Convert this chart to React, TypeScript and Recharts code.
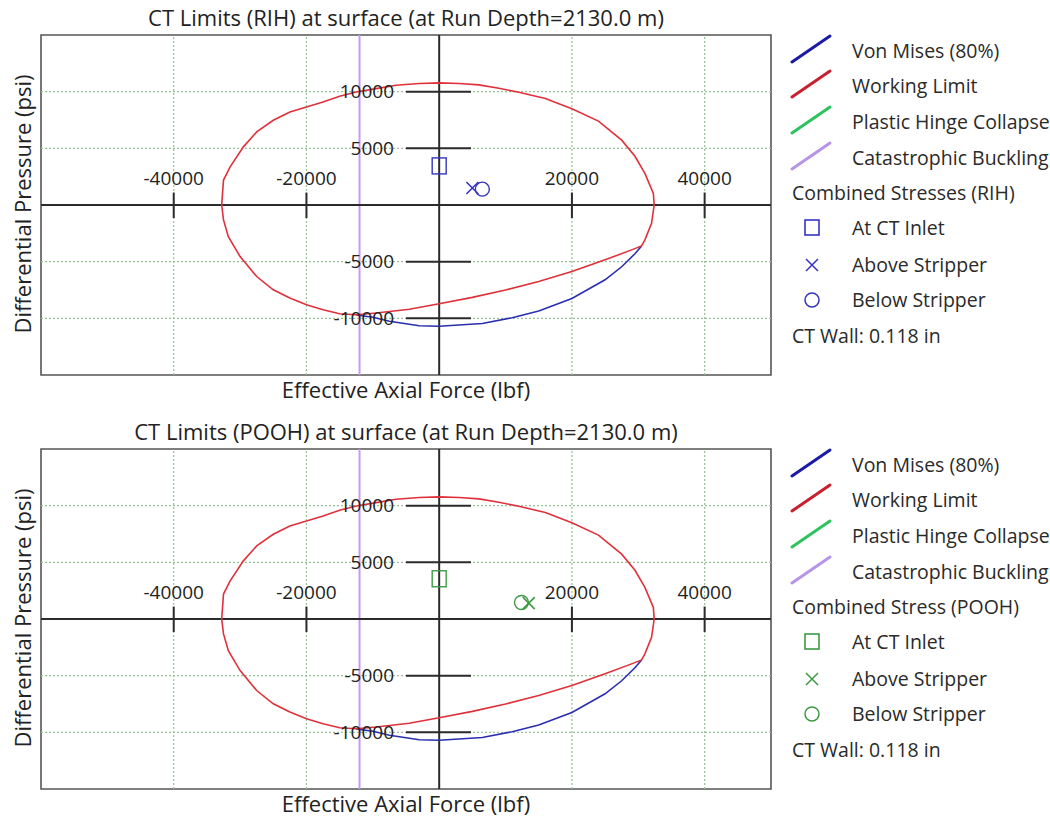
import React from "react";
import {
  ComposedChart,
  Line,
  ReferenceArea,
  ReferenceDot,
  ReferenceLine,
  Scatter,
  XAxis,
  YAxis,
} from "recharts";

const FONT = "'Open Sans', 'Noto Sans', sans-serif";

const X_DOMAIN = [-60000, 50000];
const Y_DOMAIN = [-15000, 15000];
const X_TICKS = [-40000, -20000, 20000, 40000];
const Y_TICKS = [-10000, -5000, 5000, 10000];

// Working limit envelope (lbf, psi), clockwise from the top
const workingLimit = [
  { x: 0, y: 10780 },
  { x: 3000, y: 10720 },
  { x: 6000, y: 10600 },
  { x: 9000, y: 10300 },
  { x: 12000, y: 9950 },
  { x: 16000, y: 9390 },
  { x: 20000, y: 8500 },
  { x: 24000, y: 7400 },
  { x: 27500, y: 5720 },
  { x: 29500, y: 4300 },
  { x: 31000, y: 2790 },
  { x: 32270, y: 1030 },
  { x: 32400, y: 0 },
  { x: 32000, y: -1610 },
  { x: 31000, y: -3080 },
  { x: 30500, y: -3610 },
  { x: 29000, y: -3960 },
  { x: 25000, y: -4840 },
  { x: 20000, y: -5870 },
  { x: 15000, y: -6750 },
  { x: 10000, y: -7500 },
  { x: 5000, y: -8150 },
  { x: 0, y: -8710 },
  { x: -4500, y: -9200 },
  { x: -9500, y: -9530 },
  { x: -12500, y: -9680 },
  { x: -15000, y: -9600 },
  { x: -17500, y: -9240 },
  { x: -20000, y: -8800 },
  { x: -22500, y: -8210 },
  { x: -25000, y: -7480 },
  { x: -27500, y: -6310 },
  { x: -30000, y: -4550 },
  { x: -31770, y: -2790 },
  { x: -32500, y: -1320 },
  { x: -32770, y: 0 },
  { x: -32500, y: 2200 },
  { x: -31500, y: 3370 },
  { x: -29500, y: 5130 },
  { x: -27500, y: 6450 },
  { x: -25000, y: 7480 },
  { x: -22500, y: 8210 },
  { x: -20000, y: 8650 },
  { x: -17500, y: 9090 },
  { x: -15000, y: 9600 },
  { x: -12500, y: 9970 },
  { x: -9500, y: 10270 },
  { x: -6500, y: 10560 },
  { x: -3000, y: 10720 },
  { x: 0, y: 10780 },
];

// Von Mises (80%) - visible lower arc, the rest lies under the working limit
const vonMises = [
  { x: -12500, y: -9700 },
  { x: -10000, y: -9900 },
  { x: -7500, y: -10250 },
  { x: -3000, y: -10650 },
  { x: 0, y: -10700 },
  { x: 6500, y: -10450 },
  { x: 11000, y: -9950 },
  { x: 15000, y: -9350 },
  { x: 20000, y: -8250 },
  { x: 25000, y: -6600 },
  { x: 27500, y: -5450 },
  { x: 29500, y: -4300 },
  { x: 30500, y: -3610 },
];

const BUCKLING_FORCE = -12000;

const rihInlet = [{ x: 0, y: 3450 }];
const rihAbove = [{ x: 5000, y: 1500 }];
const rihBelow = [{ x: 6500, y: 1400 }];

const poohInlet = [{ x: 0, y: 3550 }];
const poohAbove = [{ x: 13500, y: 1400 }];
const poohBelow = [{ x: 12400, y: 1450 }];

const RED = "#e0313a";
const BLUE = "#2a2fb0";
const PURPLE = "#c79af0";
const GRID = "#96c296";
const AXIS = "#2b2b2b";

const squareShape = (color: string) => (p: any) => (
  <rect x={p.cx - 7} y={p.cy - 8} width={14} height={16} fill="none" stroke={color} strokeWidth={1.4} />
);
const crossShape = (color: string) => (p: any) => (
  <path
    d={`M${p.cx - 6},${p.cy - 6}L${p.cx + 6},${p.cy + 6}M${p.cx + 6},${p.cy - 6}L${p.cx - 6},${p.cy + 6}`}
    stroke={color}
    strokeWidth={1.6}
    fill="none"
  />
);
const circleShape = (color: string) => (p: any) => (
  <circle cx={p.cx} cy={p.cy} r={7} fill="none" stroke={color} strokeWidth={1.4} />
);

const tickText = { fontSize: 19, fill: "#222", fontFamily: FONT };

type PanelProps = {
  top: number;
  title: string;
  stressTitle: string;
  color: string;
  inlet: { x: number; y: number }[];
  above: { x: number; y: number }[];
  below: { x: number; y: number }[];
};

function LegendLine({ y, color }: { y: number; color: string }) {
  return (
    <svg style={{ position: "absolute", left: 790, top: y - 18 }} width={44} height={32}>
      <line x1={2} y1={29} x2={40} y2={3} stroke={color} strokeWidth={3} strokeLinecap="round" />
    </svg>
  );
}

function LegendText({ x, y, text }: { x: number; y: number; text: string }) {
  return (
    <div
      style={{
        position: "absolute",
        left: x,
        top: y - 14,
        height: 28,
        lineHeight: "28px",
        fontSize: 19.5,
        color: "#2a2a2a",
        whiteSpace: "nowrap",
      }}
    >
      {text}
    </div>
  );
}

function Panel({ top, title, stressTitle, color, inlet, above, below }: PanelProps) {
  const rows = [51, 86, 122, 158, 193, 228, 265, 300, 336];
  return (
    <div style={{ position: "absolute", left: 0, top, width: 1050, height: 410, fontFamily: FONT }}>
      <div
        style={{
          position: "absolute",
          left: 41,
          width: 730,
          top: 2,
          height: 30,
          lineHeight: "30px",
          textAlign: "center",
          fontSize: 22,
          color: "#222",
          whiteSpace: "nowrap",
        }}
      >
        {title}
      </div>
      <div
        style={{
          position: "absolute",
          left: 41,
          width: 730,
          top: 374,
          height: 30,
          lineHeight: "30px",
          textAlign: "center",
          fontSize: 22,
          color: "#222",
        }}
      >
        Effective Axial Force (lbf)
      </div>
      <div
        style={{
          position: "absolute",
          left: 22,
          top: 204,
          lineHeight: "30px",
          transform: "translate(-50%, -50%) rotate(-90deg)",
          fontSize: 22,
          color: "#222",
          whiteSpace: "nowrap",
        }}
      >
        Differential Pressure (psi)
      </div>

      <div style={{ position: "absolute", left: 0, top: 0 }}>
        <ComposedChart
          width={780}
          height={408}
          margin={{ top: 35, right: 9, bottom: 33, left: 41 }}
        >
          <XAxis type="number" dataKey="x" domain={X_DOMAIN} allowDataOverflow hide />
          <YAxis type="number" dataKey="y" domain={Y_DOMAIN} allowDataOverflow hide />

          {X_TICKS.map((t) => (
            <ReferenceLine key={`gx${t}`} x={t} stroke={GRID} strokeDasharray="2 2" strokeWidth={1.2} />
          ))}
          {Y_TICKS.map((t) => (
            <ReferenceLine key={`gy${t}`} y={t} stroke={GRID} strokeDasharray="2 2" strokeWidth={1.2} />
          ))}
          <ReferenceArea
            x1={X_DOMAIN[0]}
            x2={X_DOMAIN[1]}
            y1={Y_DOMAIN[0]}
            y2={Y_DOMAIN[1]}
            fill="none"
            stroke="#555"
            strokeWidth={1.6}
          />
          <ReferenceLine x={BUCKLING_FORCE} stroke={PURPLE} strokeWidth={2} />
          <ReferenceLine x={0} stroke={AXIS} strokeWidth={2} />
          <ReferenceLine y={0} stroke={AXIS} strokeWidth={2} />

          {X_TICKS.map((t) => (
            <ReferenceLine
              key={`tx${t}`}
              segment={[
                { x: t, y: -1150 },
                { x: t, y: 1100 },
              ]}
              stroke={AXIS}
              strokeWidth={2}
            />
          ))}
          {Y_TICKS.map((t) => (
            <ReferenceLine
              key={`ty${t}`}
              segment={[
                { x: -5000, y: t },
                { x: 4800, y: t },
              ]}
              stroke={AXIS}
              strokeWidth={2}
            />
          ))}
          {X_TICKS.map((t) => (
            <ReferenceDot
              key={`lx${t}`}
              x={t}
              y={0}
              r={0}
              fill="none"
              stroke="none"
              label={{ value: String(t), position: "top", offset: 20, style: tickText }}
            />
          ))}
          {Y_TICKS.map((t) => (
            <ReferenceDot
              key={`ly${t}`}
              x={-5000}
              y={t}
              r={0}
              fill="none"
              stroke="none"
              label={{ value: String(t), position: "left", offset: 12, style: tickText }}
            />
          ))}

          <Line
            data={vonMises}
            dataKey="y"
            stroke={BLUE}
            strokeWidth={1.6}
            dot={false}
            isAnimationActive={false}
            type="linear"
          />
          <Line
            data={workingLimit}
            dataKey="y"
            stroke={RED}
            strokeWidth={1.6}
            dot={false}
            isAnimationActive={false}
            type="linear"
          />
          <Scatter data={inlet} shape={squareShape(color)} isAnimationActive={false} />
          <Scatter data={above} shape={crossShape(color)} isAnimationActive={false} />
          <Scatter data={below} shape={circleShape(color)} isAnimationActive={false} />
        </ComposedChart>
      </div>

      <LegendLine y={rows[0]} color="#1b1ba8" />
      <LegendText x={852} y={rows[0]} text="Von Mises (80%)" />
      <LegendLine y={rows[1]} color="#c8202e" />
      <LegendText x={852} y={rows[1]} text="Working Limit" />
      <LegendLine y={rows[2]} color="#2fc35f" />
      <LegendText x={852} y={rows[2]} text="Plastic Hinge Collapse" />
      <LegendLine y={rows[3]} color="#b795e6" />
      <LegendText x={852} y={rows[3]} text="Catastrophic Buckling" />
      <LegendText x={792} y={rows[4]} text={stressTitle} />

      <svg style={{ position: "absolute", left: 800, top: rows[5] - 12 }} width={24} height={24}>
        <rect x={5} y={4} width={14} height={15} fill="none" stroke={color} strokeWidth={1.6} />
      </svg>
      <LegendText x={852} y={rows[5]} text="At CT Inlet" />
      <svg style={{ position: "absolute", left: 800, top: rows[6] - 12 }} width={24} height={24}>
        <path d="M6,6L18,18M18,6L6,18" stroke={color} strokeWidth={1.5} fill="none" />
      </svg>
      <LegendText x={852} y={rows[6]} text="Above Stripper" />
      <svg style={{ position: "absolute", left: 800, top: rows[7] - 12 }} width={24} height={24}>
        <circle cx={12} cy={12} r={7} fill="none" stroke={color} strokeWidth={1.5} />
      </svg>
      <LegendText x={852} y={rows[7]} text="Below Stripper" />
      <LegendText x={792} y={rows[8]} text="CT Wall: 0.118 in" />
    </div>
  );
}

export default function App() {
  return (
    <div
      style={{
        position: "absolute",
        left: 0,
        top: 0,
        width: 1050,
        height: 822,
        background: "#fff",
        overflow: "hidden",
      }}
    >
      <Panel
        top={0}
        title="CT Limits (RIH) at surface (at Run Depth=2130.0 m)"
        stressTitle="Combined Stresses (RIH)"
        color="#3535c0"
        inlet={rihInlet}
        above={rihAbove}
        below={rihBelow}
      />
      <Panel
        top={414}
        title="CT Limits (POOH) at surface (at Run Depth=2130.0 m)"
        stressTitle="Combined Stress (POOH)"
        color="#3f9a44"
        inlet={poohInlet}
        above={poohAbove}
        below={poohBelow}
      />
    </div>
  );
}
